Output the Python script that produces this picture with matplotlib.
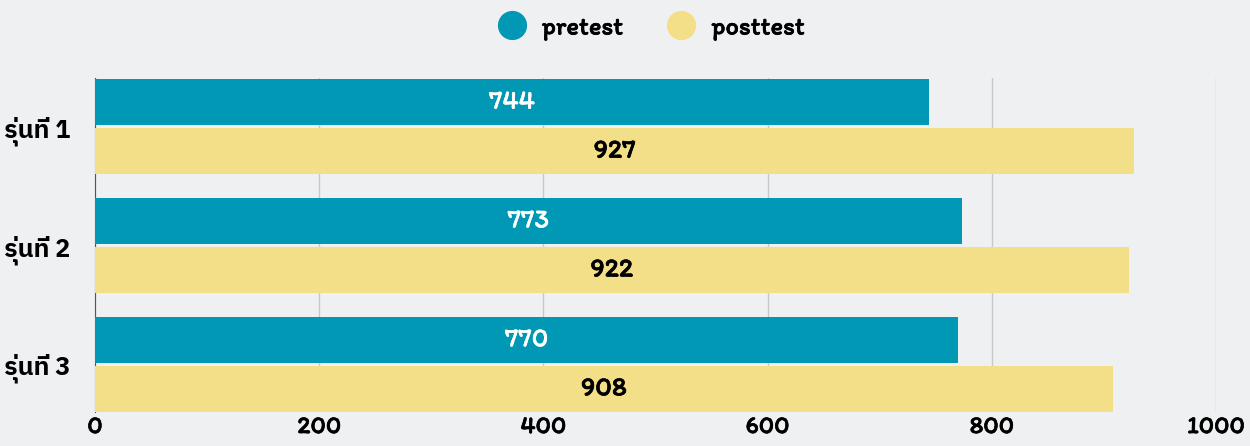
import matplotlib
matplotlib.use("Agg")
import matplotlib.pyplot as plt
import matplotlib.patheffects as pe
from matplotlib.lines import Line2D
import numpy as np

categories = ["รุ่นที่ 1", "รุ่นที่ 2", "รุ่นที่ 3"]
pretest = [744, 773, 770]
posttest = [927, 922, 908]
xticks = [0, 200, 400, 600, 800, 1000]
series_names = ["pretest", "posttest"]

FONT = ["Itim", "DejaVu Sans"]
THAI = ["IBM Plex Sans Thai", "DejaVu Sans"]
plt.rcParams["font.family"] = FONT

bg = "#eff0f2"
c_pre = "#0098b4"
c_post = "#f3df88"


def bold(color, w=0.5):
    return [pe.withStroke(linewidth=w, foreground=color)]


fig = plt.figure(figsize=(12.5, 4.46), dpi=100, facecolor=bg)
ax = fig.add_axes([0.076, 0.0762, 0.8968, 0.7489], facecolor=bg)

y = np.arange(len(categories))
h = 0.39
off = 0.206
ax.barh(y - off, pretest, height=h, color=c_pre, zorder=3)
ax.barh(y + off, posttest, height=h, color=c_post, zorder=3)
for i in range(len(categories)):
    ax.text(pretest[i] / 2, y[i] - off, str(pretest[i]), color="white",
            ha="center", va="center", fontsize=19.5, zorder=4,
            path_effects=bold("white", 0.3))
    ax.text(posttest[i] / 2, y[i] + off, str(posttest[i]), color="black",
            ha="center", va="center", fontsize=19.5, zorder=4,
            path_effects=bold("black"))

ax.set_xlim(0, 1000)
ax.set_ylim(2.4, -0.41)
ax.set_xticks(xticks)
ax.set_xticklabels([str(t) for t in xticks], fontsize=18)
for t in ax.get_xticklabels():
    t.set_path_effects(bold("black"))
ax.set_yticks(y)
ax.set_yticklabels(categories, fontsize=18, family=THAI, fontweight="bold")
ax.tick_params(axis="x", length=0, pad=3)
ax.tick_params(axis="y", length=0, pad=18)
ax.grid(axis="x", color="#c8c8c8", linewidth=1, zorder=0)
for s in ["top", "right", "bottom"]:
    ax.spines[s].set_visible(False)
ax.spines["left"].set_color("#555555")

handles = [Line2D([], [], marker="o", linestyle="", markersize=20, color=c_pre),
           Line2D([], [], marker="o", linestyle="", markersize=20, color=c_post)]
leg = fig.legend(handles, series_names, loc="center", bbox_to_anchor=(0.516, 0.937), ncol=2,
                 frameon=False, prop={"family": FONT, "size": 19}, handletextpad=0.15,
                 columnspacing=1.2)
for t in leg.get_texts():
    t.set_path_effects(bold("black"))

fig.savefig("out.png", dpi=100, facecolor=bg)
